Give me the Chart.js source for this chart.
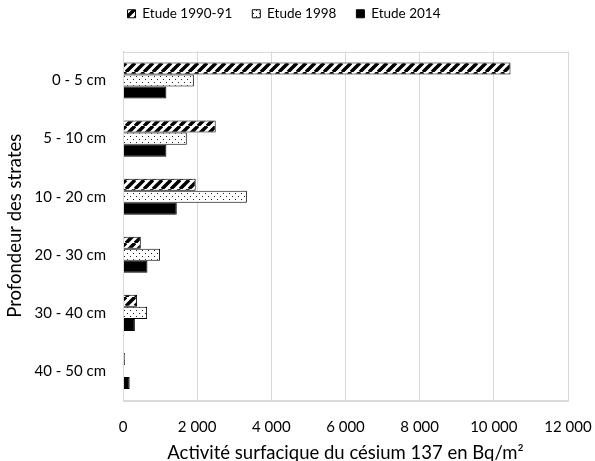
<!DOCTYPE html>
<html>
<head>
<meta charset="utf-8">
<script src="https://cdn.jsdelivr.net/npm/chart.js@4"></script>
<style>
  body { margin: 0; background: #fff; }
  #wrap { width: 595px; height: 461px; }
</style>
</head>
<body>
<div id="wrap"><canvas id="myChart"></canvas></div>
<script>
const strates = ['0 - 5 cm', '5 - 10 cm', '10 - 20 cm', '20 - 30 cm', '30 - 40 cm', '40 - 50 cm']
const etude1990 = [10450, 2500, 1960, 480, 380, 50]
const etude1998 = [1910, 1720, 3340, 1000, 650, 0]
const etude2014 = [1170, 1170, 1450, 660, 320, 180]
const xTicks = [0, 2000, 4000, 6000, 8000, 10000, 12000]

// motifs de remplissage
function hachures() {
  const c = document.createElement('canvas')
  c.width = 9
  c.height = 9
  const ctx = c.getContext('2d')
  ctx.fillStyle = '#fff'
  ctx.fillRect(0, 0, 9, 9)
  ctx.strokeStyle = '#000'
  ctx.lineWidth = 3.5
  ctx.beginPath()
  for (let k = -9; k <= 18; k += 9) {
    ctx.moveTo(k, 9)
    ctx.lineTo(k + 9, 0)
  }
  ctx.stroke()
  return ctx.createPattern(c, 'repeat')
}

function points() {
  const c = document.createElement('canvas')
  c.width = 6
  c.height = 6
  const ctx = c.getContext('2d')
  ctx.fillStyle = '#fff'
  ctx.fillRect(0, 0, 6, 6)
  ctx.fillStyle = '#222'
  ctx.fillRect(1, 1, 1, 1)
  ctx.fillRect(4, 4, 1, 1)
  return ctx.createPattern(c, 'repeat')
}

const police = 'Lato, "Open Sans", sans-serif'

// cadre gris autour de la zone de tracé + espace sous la légende
const cadre = {
  id: 'cadre',
  beforeInit(chart) {
    const fit = chart.legend.fit
    chart.legend.fit = function () {
      fit.call(this)
      this.height += 21
    }
  },
  afterDraw(chart) {
    const a = chart.chartArea
    const ctx = chart.ctx
    ctx.save()
    ctx.strokeStyle = '#d9d9d9'
    ctx.lineWidth = 1
    ctx.strokeRect(Math.round(a.left) + 0.5, Math.round(a.top) + 0.5, Math.round(a.right - a.left), Math.round(a.bottom - a.top))
    ctx.restore()
  }
}

const data = {
  labels: strates,
  datasets: [
    {
      label: 'Etude 1990-91',
      data: etude1990,
      backgroundColor: hachures(),
      borderColor: '#000',
      borderWidth: 1
    },
    {
      label: 'Etude 1998',
      data: etude1998,
      backgroundColor: points(),
      borderColor: '#000',
      borderWidth: 1
    },
    {
      label: 'Etude 2014',
      data: etude2014,
      backgroundColor: '#000',
      borderColor: '#000',
      borderWidth: 1
    }
  ]
}

const config = {
  type: 'bar',
  data: data,
  plugins: [cadre],
  options: {
    indexAxis: 'y',
    responsive: true,
    maintainAspectRatio: false,
    animation: false,
    layout: { padding: { left: 0, right: 27, top: -13, bottom: 0 } },
    datasets: { bar: { categoryPercentage: 0.62, barPercentage: 1 } },
    plugins: {
      legend: {
        position: 'top',
        labels: {
          boxWidth: 8,
          boxHeight: 8,
          padding: 20,
          color: '#000',
          font: { family: police, size: 13.5 }
        }
      },
      tooltip: { enabled: false }
    },
    scales: {
      x: {
        min: 0,
        max: 12000,
        afterBuildTicks: scale => { scale.ticks = xTicks.map(v => ({ value: v })) },
        afterFit: scale => {
          scale.height = 61
          scale.paddingLeft = 0
          scale.paddingRight = 0
        },
        grid: { color: '#d9d9d9', drawTicks: false },
        border: { color: '#d9d9d9' },
        ticks: {
          padding: 18,
          color: '#000',
          font: { family: police, size: 15 },
          callback: v => v.toLocaleString('fr-FR').replace(/\s/g, ' ')
        },
        title: {
          display: true,
          text: 'Activité surfacique du césium 137 en Bq/m²',
          color: '#000',
          font: { family: police, size: 18.5 },
          padding: { top: 4, bottom: -3.5 }
        }
      },
      y: {
        afterFit: scale => { scale.width = 123 },
        grid: { display: false },
        border: { color: '#bfbfbf' },
        ticks: {
          padding: 9,
          color: '#000',
          font: { family: police, size: 15 }
        },
        title: {
          display: true,
          text: 'Profondeur des strates',
          color: '#000',
          font: { family: police, size: 18.5 },
          padding: { top: 4 }
        }
      }
    }
  }
}

const myChart = new Chart(document.getElementById('myChart'), config)
</script>
</body>
</html>
